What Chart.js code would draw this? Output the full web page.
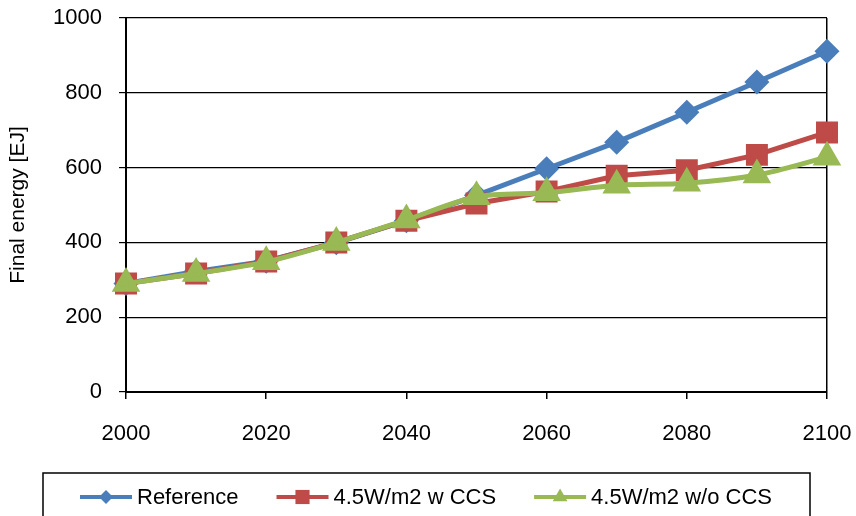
<!DOCTYPE html>
<html>
<head>
<meta charset="utf-8">
<script src="https://cdn.jsdelivr.net/npm/chart.js@4/dist/chart.umd.min.js"></script>
<style>
  html, body { margin: 0; padding: 0; background: #fff; }
  #wrap { width: 856px; height: 516px; }
</style>
</head>
<body>
<div id="wrap"><canvas id="c" width="856" height="516"></canvas></div>
<script>
// Final energy demand by scenario, EJ
const years = [2000, 2010, 2020, 2030, 2040, 2050, 2060, 2070, 2080, 2090, 2100];
const reference = [290, 322, 350, 399, 458, 526, 597, 668, 748, 829, 911];
const withCCS = [290, 317, 349, 400, 458, 504, 536, 578, 593, 634, 694];
const withoutCCS = [290, 317, 348, 400, 460, 522, 533, 553, 558, 580, 628];
const seriesNames = ['Reference', '4.5W/m2 w CCS', '4.5W/m2 w/o CCS'];
const yTicks = [0, 200, 400, 600, 800, 1000];
const xTicks = [2000, 2020, 2040, 2060, 2080, 2100];

const FONT = "'Liberation Sans', Arial, sans-serif";
const toPoints = vals => vals.map((v, i) => ({ x: years[i], y: v }));

// Boxed legend below the plot: line segment with the series marker, then the name
const boxLegend = {
  id: 'boxLegend',
  afterDraw(chart) {
    const ctx = chart.ctx;
    ctx.save();
    ctx.strokeStyle = '#000';
    ctx.lineWidth = 1.5;
    ctx.strokeRect(43, 473, 767, 60);
    ctx.font = '22px ' + FONT;
    ctx.textBaseline = 'middle';
    const cy = 497;
    const legendSizes = [7, 10, 8.5];
    let x = 80;
    chart.data.datasets.forEach((ds, i) => {
      ctx.strokeStyle = ds.borderColor;
      ctx.lineWidth = 4;
      ctx.beginPath();
      ctx.moveTo(x, cy);
      ctx.lineTo(x + 52, cy);
      ctx.stroke();
      const opts = { pointStyle: ds.pointStyle, radius: legendSizes[i], rotation: 0, borderWidth: 0 };
      ctx.fillStyle = ds.pointBackgroundColor;
      ctx.strokeStyle = ds.pointBackgroundColor;
      Chart.helpers.drawPoint(ctx, opts, x + 26, cy);
      ctx.fillStyle = '#000';
      ctx.fillText(ds.label, x + 57, cy + 1);
      x += 57 + ctx.measureText(ds.label).width + 38;
    });
    ctx.restore();
  }
};

new Chart(document.getElementById('c'), {
  type: 'line',
  data: {
    datasets: [
      {
        label: seriesNames[0], data: toPoints(reference),
        borderColor: '#4A7EBB', backgroundColor: '#4A7EBB',
        pointBackgroundColor: '#4A7EBB', pointBorderColor: '#4A7EBB',
        pointStyle: 'rectRot', pointRadius: 9, borderWidth: 5, tension: 0, order: 3
      },
      {
        label: seriesNames[1], data: toPoints(withCCS),
        borderColor: '#BE4B48', backgroundColor: '#BE4B48',
        pointBackgroundColor: '#BE4B48', pointBorderColor: '#BE4B48',
        pointStyle: 'rect', pointRadius: 12, borderWidth: 5, tension: 0, order: 2
      },
      {
        label: seriesNames[2], data: toPoints(withoutCCS),
        borderColor: '#98B954', backgroundColor: '#98B954',
        pointBackgroundColor: '#98B954', pointBorderColor: '#98B954',
        pointStyle: 'triangle', pointRadius: 11.5, borderWidth: 5, tension: 0.3, order: 1
      }
    ]
  },
  options: {
    responsive: false,
    animation: false,
    devicePixelRatio: 1,
    clip: false,
    layout: { padding: { top: 18, right: 29, bottom: 0, left: 0 } },
    plugins: { legend: { display: false }, tooltip: { enabled: false } },
    elements: { point: { borderWidth: 0, hoverRadius: 0 } },
    scales: {
      x: {
        type: 'linear', min: 2000, max: 2100,
        afterBuildTicks(s) { s.ticks = xTicks.map(v => ({ value: v })); },
        afterFit(s) { s.height = 124; s.paddingLeft = 0; s.paddingRight = 0; },
        border: { color: '#000', width: 2 },
        grid: {
          color: c => (c.tick && c.tick.value === 2100 ? '#000' : 'rgba(0,0,0,0)'),
          tickColor: '#000', tickLength: 7, lineWidth: 1.5
        },
        ticks: {
          color: '#000', font: { family: FONT, size: 22 }, padding: 22, maxRotation: 0,
          callback: v => String(v)
        }
      },
      y: {
        min: 0, max: 1000,
        afterBuildTicks(s) { s.ticks = yTicks.map(v => ({ value: v })); },
        afterFit(s) { s.width = 126; s.paddingTop = 0; s.paddingBottom = 0; },
        border: { color: '#000', width: 2 },
        grid: { color: '#000', tickColor: '#000', tickLength: 7, lineWidth: 1.2 },
        ticks: {
          color: '#000', font: { family: FONT, size: 22 }, padding: 17,
          callback: v => String(v)
        },
        title: {
          display: true, text: 'Final energy [EJ]', color: '#000',
          font: { family: FONT, size: 21 }, padding: { top: 6, bottom: 0 }
        }
      }
    }
  },
  plugins: [boxLegend]
});
</script>
</body>
</html>
